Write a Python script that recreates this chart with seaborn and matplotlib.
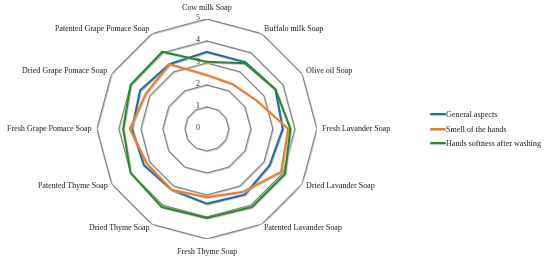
import numpy as np
import pandas as pd
import matplotlib
matplotlib.use("Agg")
import matplotlib.pyplot as plt
import matplotlib.patheffects as pe
import seaborn as sns

# Datos
categorias = ["Cow milk Soap", "Buffalo milk Soap", "Olive oil Soap", "Fresh Lavander Soap",
              "Dried Lavander Soap", "Patented Lavander Soap", "Fresh Thyme Soap", "Dried Thyme Soap",
              "Patented Thyme Soap", "Fresh Grape Pomace Soap", "Dried Grape Pomace Soap",
              "Patented Grape Pomace Soap"]
general = [3.5, 3.5, 3.6, 3.45, 3.3, 3.45, 3.4, 3.2, 3.3, 3.4, 3.5, 3.4]
olor = [2.45, 2.35, 2.6, 3.7, 3.9, 3.3, 3.1, 3.2, 3.15, 3.5, 3.2, 3.4]
suavidad = [3.05, 3.45, 3.6, 3.8, 4.1, 4.1, 4.05, 4.1, 4.0, 3.8, 4.0, 4.05]
series = ["General aspects", "Smell of the hands", "Hands softness after washing"]
niveles = [1, 2, 3, 4, 5]
etiquetas_r = ["0", "1", "2", "3", "4", "5"]
colores = ["#1f6ea6", "#f47a2b", "#2b8a2e"]

sns.set_style("white")
plt.rcParams["font.family"] = ["Liberation Serif", "DejaVu Serif"]

n = len(categorias)
angulos = [2 * np.pi * i / n for i in range(n)]
cerrado = angulos + [2 * np.pi]

# Tabla larga para seaborn (cerrando el poligono)
filas = []
for nombre, valores in zip(series, [general, olor, suavidad]):
    for th, v in zip(cerrado, valores + [valores[0]]):
        filas.append({"theta": th, "valor": v, "serie": nombre})
df = pd.DataFrame(filas)

fig = plt.figure(figsize=(5.5, 2.62), dpi=100)
ax = fig.add_axes([0.176, 0.088, 0.4, 0.84], projection="polar")
ax.set_theta_zero_location("N")
ax.set_theta_direction(-1)

sombra = [pe.SimpleLineShadow(offset=(0.6, -0.6), shadow_color="0.7", alpha=0.7), pe.Normal()]

# Rejilla poligonal
for nv in niveles:
    ax.plot(cerrado, [nv] * (n + 1), color="#808080", lw=0.8, path_effects=sombra, zorder=1)

sns.lineplot(data=df, x="theta", y="valor", hue="serie", palette=colores, sort=False,
             estimator=None, ax=ax, linewidth=1.5, zorder=3)
for linea in ax.get_lines()[len(niveles):]:
    linea.set_path_effects(sombra)

ax.set_ylim(0, 5)
ax.grid(False)
ax.spines["polar"].set_visible(False)
ax.set_xticks([])
ax.set_yticks([])
ax.set_xlabel("")
ax.set_ylabel("")

# Etiquetas de categorias
for th, cat in zip(angulos, categorias):
    s = np.sin(th)
    c = np.cos(th)
    if abs(s) < 0.1:
        ha = "center"
        va = "bottom" if c > 0 else "top"
        r = 5.3 if c > 0 else 5.4
    else:
        ha = "left" if s > 0 else "right"
        va = "center"
        r = 5.22
    ax.text(th, r, cat, ha=ha, va=va, fontsize=5.8, color="#222222")

# Etiquetas del eje radial
for nv, et in zip([0] + niveles, etiquetas_r):
    ax.annotate(et, xy=(0, nv), xytext=(-6.5, 1), textcoords="offset points",
                ha="center", va="center", fontsize=5.8, color="#333333")

handles, labels = ax.get_legend_handles_labels()
ax.get_legend().remove()
fig.legend(handles, labels, loc="center left", bbox_to_anchor=(0.783, 0.505), frameon=False,
           fontsize=5.9, handlelength=1.7, handletextpad=0.2, labelspacing=0.8,
           borderpad=0, borderaxespad=0)

fig.savefig("out.png", dpi=100)
